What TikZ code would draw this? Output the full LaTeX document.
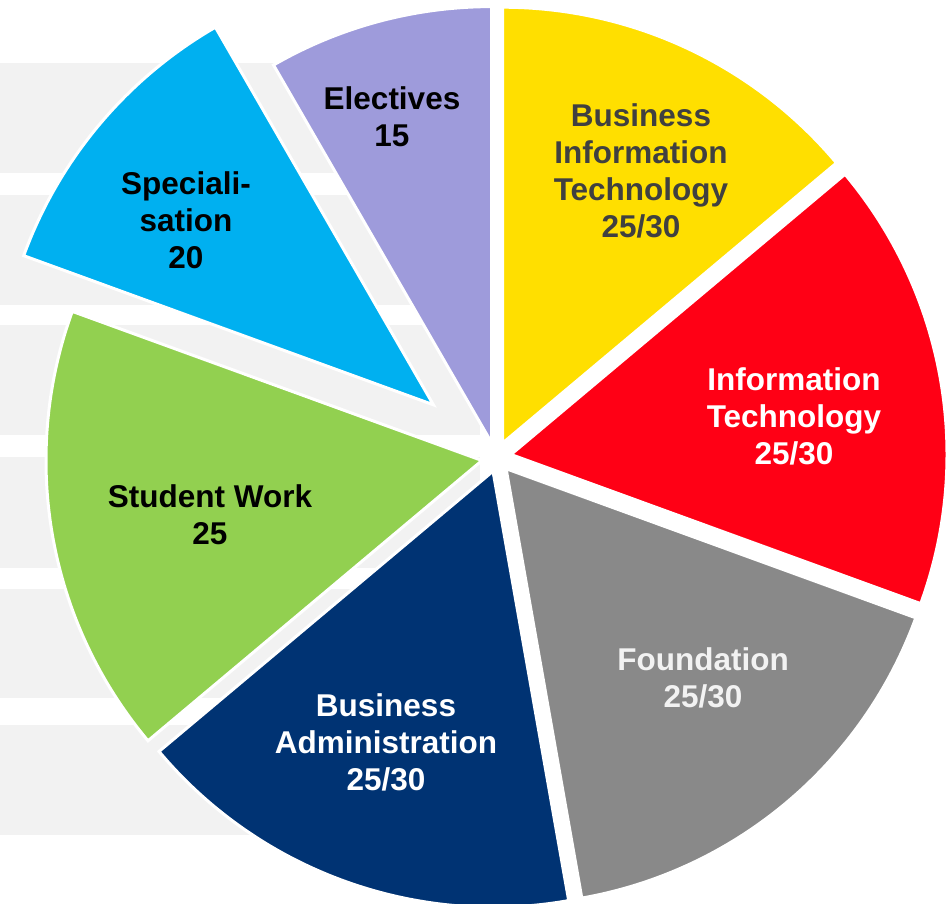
\documentclass[tikz,border=0pt]{standalone}
\usepackage{fontspec}
\setmainfont{Liberation Sans}
\definecolor{bandgray}{RGB}{242,242,242}
\definecolor{cpurple}{RGB}{158,155,219}
\definecolor{cblue}{RGB}{0,176,240}
\definecolor{cgreen}{RGB}{146,208,80}
\definecolor{cnavy}{RGB}{0,51,115}
\definecolor{cgray}{RGB}{137,137,137}
\definecolor{cred}{RGB}{255,0,21}
\definecolor{cyellow}{RGB}{255,223,0}
\definecolor{darktext}{RGB}{64,64,64}
\definecolor{lighttext}{RGB}{242,242,242}
\begin{document}
\begin{tikzpicture}[x=1pt,y=1pt,
  band/.style={fill=bandgray,draw=none},
  slice/.style={draw=white,line width=3pt},
  lbl/.style={align=center,inner sep=0pt,font=\bfseries\fontsize{31.5}{37}\selectfont}]
\useasboundingbox (0,0) rectangle (948,-903);
% background bands
\fill[band] (0,-63) rectangle (480,-173);
\fill[band] (0,-195) rectangle (480,-305);
\fill[band] (0,-325) rectangle (480,-435);
\fill[band] (0,-457) rectangle (480,-568);
\fill[band] (0,-589) rectangle (480,-698);
\fill[band] (0,-725) rectangle (480,-835);
% slices
\def\R{436}
\filldraw[slice,fill=cpurple] (491.5,-442.6) -- ++(90:\R) arc[start angle=90,end angle=120,radius=\R] -- cycle;
\filldraw[slice,fill=cblue] (433.4,-404.8) -- ++(120:\R) arc[start angle=120,end angle=160,radius=\R] -- cycle;
\filldraw[slice,fill=cgreen] (482.0,-460.5) -- ++(160:\R) arc[start angle=160,end angle=220,radius=\R] -- cycle;
\filldraw[slice,fill=cnavy] (493.0,-471.2) -- ++(220:\R) arc[start angle=220,end angle=280,radius=\R] -- cycle;
\filldraw[slice,fill=cgray] (506.1,-468.7) -- ++(280:\R) arc[start angle=280,end angle=340,radius=\R] -- cycle;
\filldraw[slice,fill=cred] (511.0,-454.5) -- ++(-20:\R) arc[start angle=-20,end angle=40,radius=\R] -- cycle;
\filldraw[slice,fill=cyellow] (502.5,-443.2) -- ++(40:\R) arc[start angle=40,end angle=90,radius=\R] -- cycle;
% labels
\node[lbl,text=black] (electives) at (392,-117) {Electives\\15};
\node[lbl,text=black] (spec) at (186,-220) {Speciali-\\sation\\20};
\node[lbl,text=black] (student) at (210,-515) {Student Work\\25};
\node[lbl,text=white] (busadm) at (386,-742) {Business\\Administration\\25/30};
\node[lbl,text=lighttext] (found) at (703,-678) {Foundation\\25/30};
\node[lbl,text=white] (infotech) at (794,-416) {Information\\Technology\\25/30};
\node[lbl,text=darktext] (bit) at (641,-171) {Business\\Information\\Technology\\25/30};
\end{tikzpicture}
\end{document}
